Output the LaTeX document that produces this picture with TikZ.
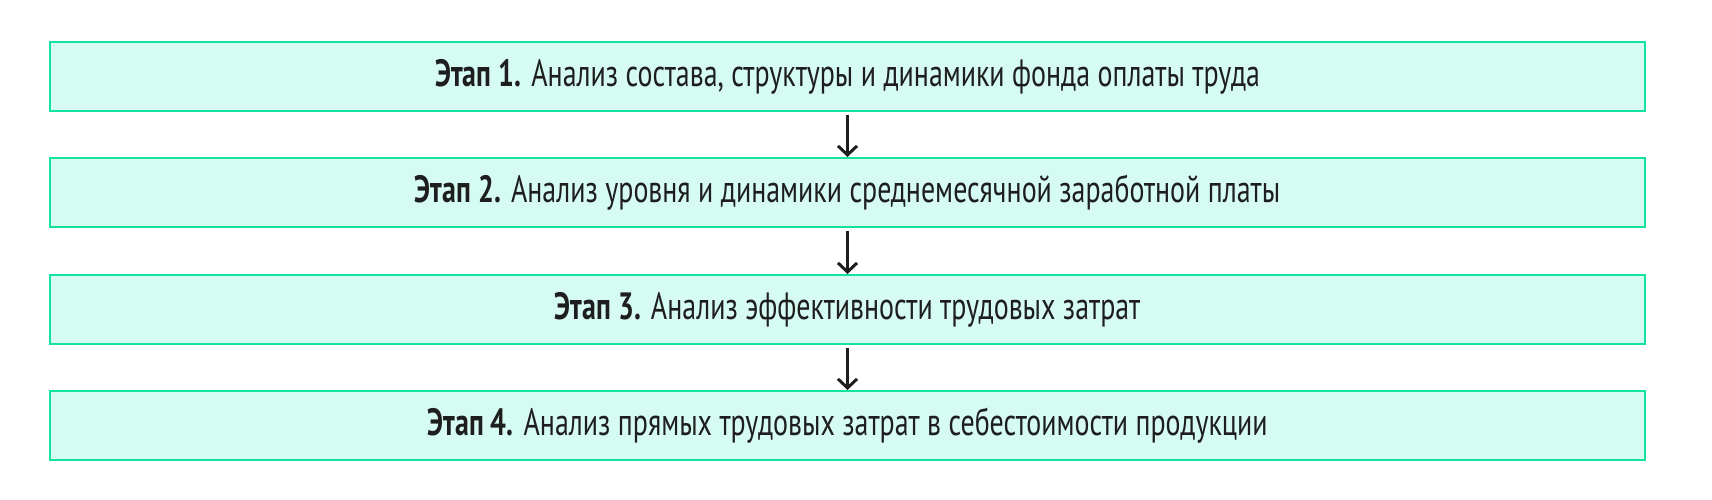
\documentclass[tikz,border=0pt]{standalone}
\usepackage{fontspec}
\setmainfont{PT Sans}[FakeStretch=0.735]
\usetikzlibrary{arrows.meta}
\definecolor{boxline}{HTML}{14E3A0}
\definecolor{boxfill}{HTML}{D5FBF2}
\definecolor{ink}{HTML}{1E1E1E}
\tikzset{
  stagebox/.style={draw=boxline, fill=boxfill, line width=2pt, minimum width=1595pt, minimum height=69pt, inner sep=0pt,
    font=\fontsize{38}{42}\selectfont, text=ink},
  flowarrow/.style={draw=ink, line width=2.2pt, -{Straight Barb[length=9pt,width=19pt,line width=3pt]}, shorten <=3pt}
}
\begin{document}
\begin{tikzpicture}[x=1pt,y=1pt]
\useasboundingbox (0,0) rectangle (1712,-499);
\node[stagebox] (b1) at (847.5,-76.5) {\textbf{Этап 1.} Анализ состава, структуры и динамики фонда оплаты труда};
\node[stagebox] (b2) at (847.5,-192.5) {\textbf{Этап 2.} Анализ уровня и динамики среднемесячной заработной платы};
\node[stagebox] (b3) at (847.5,-309.5) {\textbf{Этап 3.} Анализ эффективности трудовых затрат};
\node[stagebox] (b4) at (847.5,-425.5) {\textbf{Этап 4.} Анализ прямых трудовых затрат в себестоимости продукции};
\draw[flowarrow] (b1.south) -- (b2.north);
\draw[flowarrow] (b2.south) -- (b3.north);
\draw[flowarrow] (b3.south) -- (b4.north);
\end{tikzpicture}
\end{document}
